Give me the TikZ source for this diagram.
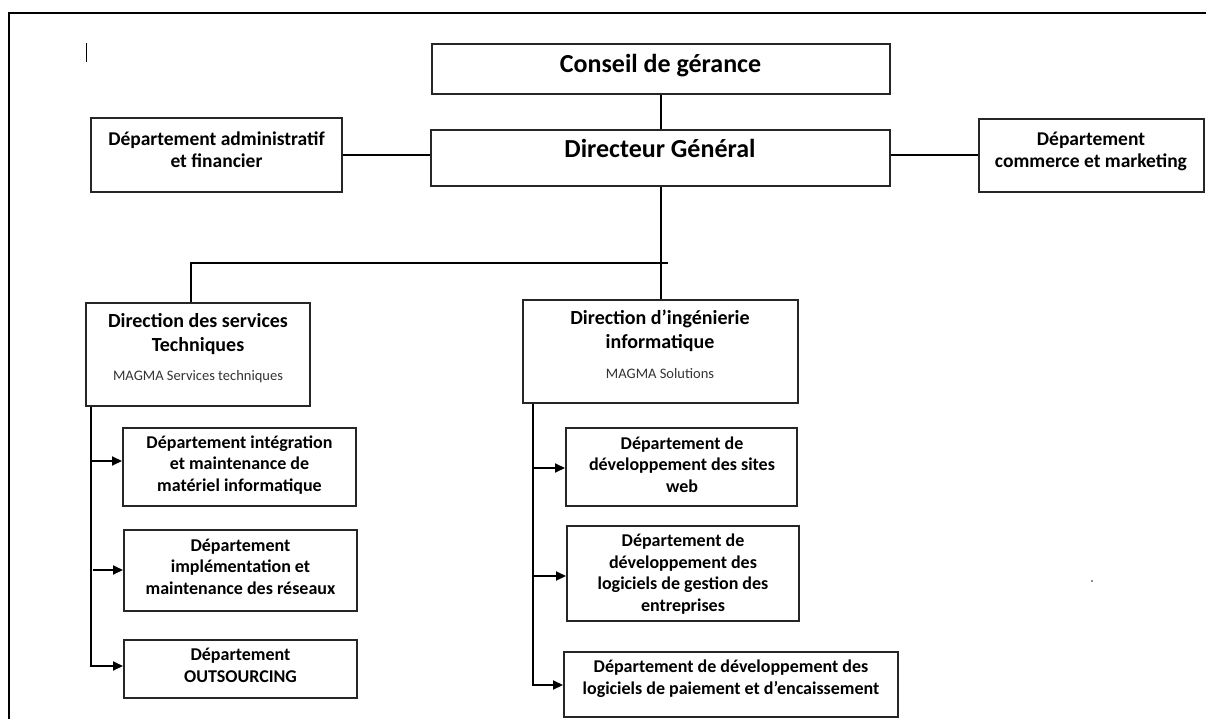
\documentclass[tikz,border=0pt]{standalone}
\usepackage{fontspec}
\setmainfont{Carlito}
\usetikzlibrary{arrows.meta}
\begin{document}
\begin{tikzpicture}[x=1pt,y=-1pt,
  box/.style={draw=black!85, line width=2pt, inner sep=0pt},
  link/.style={draw=black, line width=2pt},
  arr/.style={link, -{Triangle[length=10pt,width=9pt]}},
  head/.style={inner sep=0pt, font=\bfseries\fontsize{26}{30}\selectfont},
  side/.style={inner sep=0pt, align=center, font=\bfseries\fontsize{19.5}{22}\selectfont},
  dir/.style={inner sep=0pt, align=center, font=\bfseries\fontsize{20}{24}\selectfont},
  sub/.style={inner sep=0pt, text=black!80, font=\fontsize{14.5}{17}\selectfont},
  dept/.style={inner sep=0pt, align=center, font=\bfseries\fontsize{18}{21.5}\selectfont}
]
\useasboundingbox (0,0) rectangle (1206,719);
\clip (0,0) rectangle (1206,719);

% page frame and cursor mark
\draw[line width=2.4pt] (9,725) -- (9,13) -- (1212,13);
\draw[line width=1pt] (86.5,43) -- (86.5,62);
\fill[black!45] (1091,580) rectangle (1093,582);

% top level
\node[box, minimum width=458pt, minimum height=50pt] (conseil) at (660.5,69) {};
\node[head, anchor=base] (t-conseil) at (660.5,73) {Conseil de gérance};
\node[box, minimum width=459pt, minimum height=56pt] (directeur) at (660.5,158) {};
\node[head, anchor=base] (t-directeur) at (660,158) {Directeur Général};

\node[box, minimum width=251pt, minimum height=74pt] (admin) at (216.5,155) {};
\node[side] (t-admin) at (216.5,150) {Département administratif\\et financier};
\node[box, minimum width=225pt, minimum height=73pt] (commerce) at (1091.5,155.5) {};
\node[side] (t-commerce) at (1091,151) {Département\\commerce et marketing};

% directions
\node[box, minimum width=224pt, minimum height=103pt] (services) at (198,354.5) {};
\node[dir] (t-services) at (198,334) {Direction des services\\Techniques};
\node[sub] (s-services) at (198,377) {MAGMA Services techniques};
\node[box, minimum width=275pt, minimum height=103pt] (ingenierie) at (660.5,351.5) {};
\node[dir] (t-ingenierie) at (660,331) {Direction d’ingénierie\\informatique};
\node[sub] (s-ingenierie) at (660,374) {MAGMA Solutions};

% technical services departments
\node[box, minimum width=233pt, minimum height=78pt] (d1) at (239.5,467) {};
\node[dept] (t-d1) at (239.5,465) {Département intégration\\et maintenance de\\matériel informatique};
\node[box, minimum width=233pt, minimum height=81pt] (d2) at (240.5,570.5) {};
\node[dept] (t-d2) at (240.5,566.5) {Département\\implémentation et\\maintenance des réseaux};
\node[box, minimum width=233pt, minimum height=58pt] (d3) at (240.5,669) {};
\node[dept] (t-d3) at (240.5,665.5) {Département\\OUTSOURCING};

% engineering departments
\node[box, minimum width=231pt, minimum height=78pt] (dA) at (681.5,467) {};
\node[dept] (t-dA) at (682,464.5) {Département de\\développement des sites\\web};
\node[box, minimum width=232pt, minimum height=95pt] (dB) at (683,573.5) {};
\node[dept] (t-dB) at (683,574) {Département de\\développement des\\logiciels de gestion des\\entreprises};
\node[box, minimum width=334pt, minimum height=65pt] (dC) at (731,684.5) {};
\node[dept] (t-dC) at (731,678.5) {Département de développement des\\logiciels de paiement et d’encaissement};

% connectors
\draw[link] (conseil.south) -- (directeur.north);
\draw[link] (admin.east) -- (admin.east -| directeur.west);
\draw[link] (directeur.east |- commerce.west) -- (commerce.west);
\draw[link] (directeur.south) -- (directeur.south |- ingenierie.north);

\coordinate (busL) at (191,263);
\coordinate (busR) at (668,263);
\draw[link] (busR) -- (busL) -- (busL |- services.north);

\coordinate (l1) at (91,461);
\coordinate (l2) at (93,570);
\coordinate (lbot) at (91,666);
\draw[arr] (services.south -| lbot) -- (lbot) -- (lbot -| d3.west);
\draw[arr] (l1) -- (l1 -| d1.west);
\draw[arr] (l2) -- (l2 -| d2.west);

\coordinate (r1) at (533,468);
\coordinate (r2) at (533,576);
\coordinate (rbot) at (533,685);
\draw[arr] (ingenierie.south -| rbot) -- (rbot) -- (rbot -| dC.west);
\draw[arr] (r1) -- (r1 -| dA.west);
\draw[arr] (r2) -- (r2 -| dB.west);
\end{tikzpicture}
\end{document}
